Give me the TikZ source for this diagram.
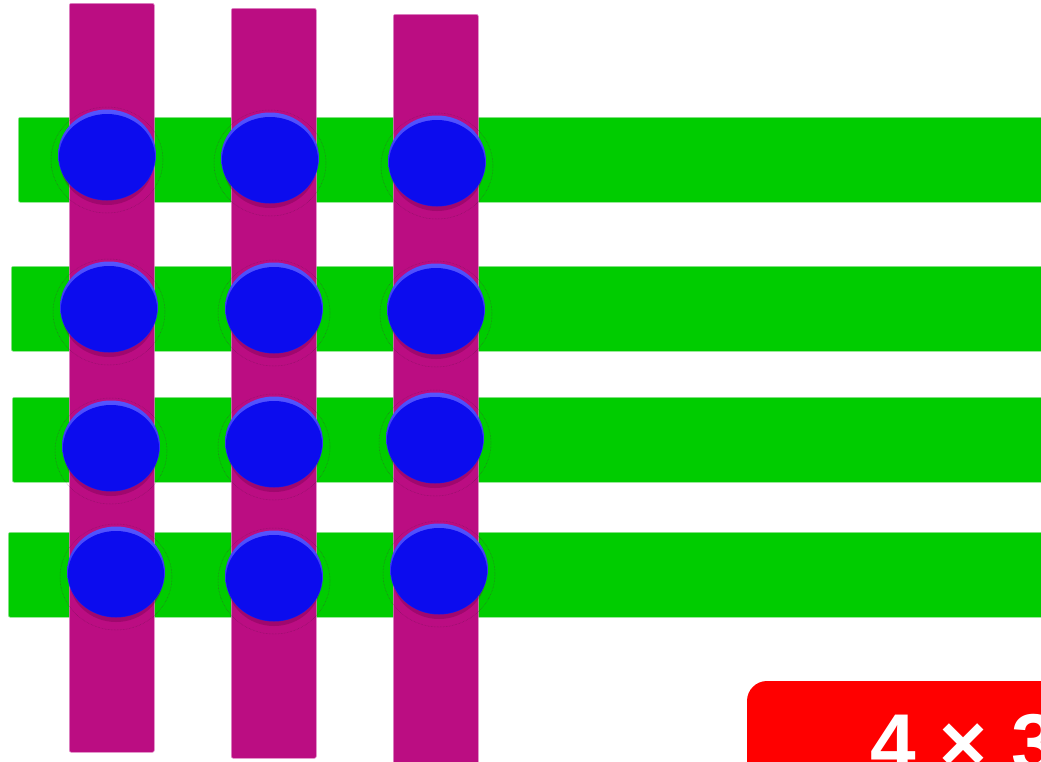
\documentclass[tikz,border=0pt]{standalone}
\usepackage{fontspec}
\newfontfamily\arialfont{Liberation Sans}
\definecolor{barGreen}{RGB}{0,204,0}
\definecolor{barGreenEdge}{RGB}{150,230,150}
\definecolor{barMag}{RGB}{187,13,130}
\definecolor{barMagEdge}{RGB}{225,140,200}
\definecolor{shadowMag}{RGB}{120,0,80}
\definecolor{ringMag}{RGB}{90,20,70}
\definecolor{ballTop}{RGB}{85,85,255}
\definecolor{ballMid}{RGB}{12,12,240}
\definecolor{ballBot}{RGB}{25,25,230}
\definecolor{ballCore}{RGB}{12,12,238}
\begin{document}
\begin{tikzpicture}[x=1pt,y=-1pt,
  greenbar/.style={fill=barGreen,draw=barGreenEdge,line width=0.6pt,rounded corners=2pt,inner sep=0pt,anchor=north west},
  magbar/.style={fill=barMag,draw=barMagEdge,line width=0.6pt,rounded corners=2pt,inner sep=0pt,anchor=north west,minimum width=85pt},
  ballshadow/.style={fill=shadowMag,opacity=0.4},
  ballring/.style={draw=ringMag,densely dotted,line width=0.5pt,opacity=0.5}
]
\useasboundingbox (0,0) rectangle (1041,761);
\clip (0,0) rectangle (1041,761);
\fill[white] (0,0) rectangle (1041,761);

% green horizontal bars
\node[greenbar,minimum width=1040pt,minimum height=85pt] (g1) at (18,117) {};
\node[greenbar,minimum width=1040pt,minimum height=85pt] (g2) at (11,266) {};
\node[greenbar,minimum width=1040pt,minimum height=85pt] (g3) at (12,397) {};
\node[greenbar,minimum width=1040pt,minimum height=85pt] (g4) at (8,532) {};

% magenta vertical bars
\node[magbar,minimum height=749pt] (m1) at (69,3) {};
\node[magbar,minimum height=750pt] (m2) at (231,8) {};
\node[magbar,minimum height=760pt] (m3) at (393,14) {};

% balls
\foreach \n/\x/\y in {a1/107/155, a2/270/158, a3/437/161,
                      b1/109/307, b2/274/308, b3/436/309,
                      c1/111/446, c2/274/442, c3/435/438,
                      d1/116/572, d2/274/576, d3/439/569}{
  \draw[ballring] (\x,\y+5) ellipse [x radius=56pt, y radius=53pt];
  \fill[ballshadow] (\x,\y+6) ellipse [x radius=47pt, y radius=44pt];
  \shade[top color=ballTop,middle color=ballMid,bottom color=ballBot]
    (\x,\y) ellipse [x radius=49pt, y radius=45.5pt];
  \fill[ballCore] (\x,\y+2) ellipse [x radius=48pt, y radius=43pt];
  \node[inner sep=0pt,minimum width=98pt,minimum height=91pt] (\n) at (\x,\y) {};
}

% red label box
\fill[red,rounded corners=20pt] (747,681) rectangle (1100,820);
\node[anchor=base west,inner sep=0pt,text=white,font={\arialfont\bfseries\fontsize{82}{82}\selectfont}] (lab) at (870,771) {\spaceskip=24pt 4 × 3};
\end{tikzpicture}
\end{document}
